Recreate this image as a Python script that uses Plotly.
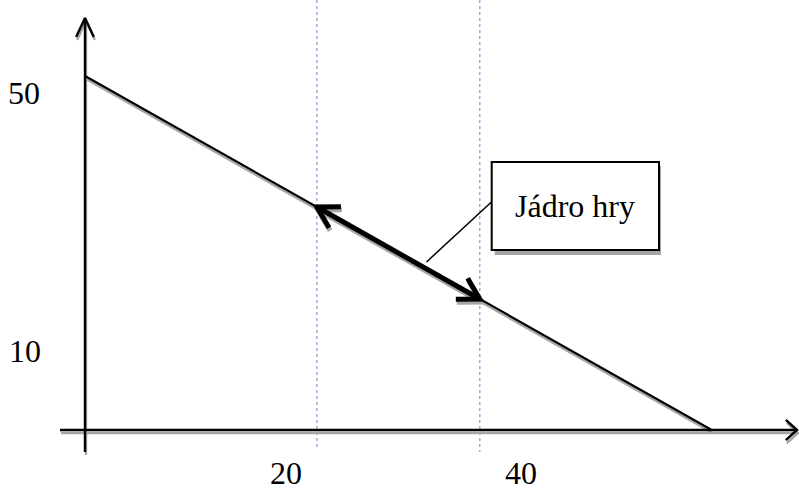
import math
import plotly.graph_objects as go

# ---------------- data ----------------
x_intercept = 60          # budget line meets the horizontal axis
y_intercept = 50          # budget line meets the vertical axis
core_bounds = [22.2, 37.8]  # x-limits of the core (dashed lines / thick arrow)
x_tick_vals = [20, 40]
x_tick_text = ["20", "40"]
y_tick_vals = [50, 10]
y_tick_text = ["50", "10"]
callout_text = "Jádro hry"

# ---------------- scale / styles ----------------
W, H = 799, 488
KX, KY = 10.445, 7.08          # px per data unit
X0PX, Y0PX = 85, 430           # pixel position of the origin
x_range = [-X0PX / KX, (W - X0PX) / KX]
y_range = [-(H - Y0PX) / KY, Y0PX / KY]

FONT = "Liberation Serif, Times New Roman, serif"
SHADOW = "#a6a6a6"
SH_X, SH_Y = 1 / KX, -3 / KY   # shadow offset (data units)


def line_y(x):
    return y_intercept * (1 - x / x_intercept)


def chevron(tx, ty, back_deg, half_deg, length_px):
    """open arrow head; back_deg = screen angle (y down) from tip along shaft"""
    xs, ys = [], []
    for s in (-1, 1):
        a = math.radians(back_deg + s * half_deg)
        xs.append(tx + length_px * math.cos(a) / KX)
        ys.append(ty - length_px * math.sin(a) / KY)
    return [xs[0], tx, xs[1]], [ys[0], ty, ys[1]]


fig = go.Figure()


def seg(xs, ys, color, width, dash=None, shadow=False):
    if shadow:
        xs = [v + SH_X for v in xs]
        ys = [v + SH_Y for v in ys]
    fig.add_trace(go.Scatter(x=xs, y=ys, mode="lines", hoverinfo="skip",
                             line=dict(color=color, width=width, dash=dash)))


# geometry derived from data
h_axis_x = [-25 / KX, (W - 2 - X0PX) / KX]
v_axis_y = [-22 / KY, (Y0PX - 18) / KY]
diag_x = [0, x_intercept]
diag_y = [y_intercept, 0]
core_y = [line_y(v) for v in core_bounds]
slope_deg = math.degrees(math.atan2(y_intercept * KY, x_intercept * KX))

top_chev = chevron(0, v_axis_y[1], 90, 25, 21)
right_chev = chevron(h_axis_x[1], 0, 180, 42, 15)
core_chev1 = chevron(core_bounds[0], core_y[0], slope_deg, 30, 24)
core_chev2 = chevron(core_bounds[1], core_y[1], slope_deg + 180, 30, 24)

# dashed core boundaries
for xb, bottom_px in zip(core_bounds, [17, 22]):
    seg([xb, xb], [y_range[1], -bottom_px / KY], "#7f9ccc", 1.2, dash="dot")

# shadows first, then black strokes
for shadow_pass in (True, False):
    col = SHADOW if shadow_pass else "black"
    seg(h_axis_x, [0, 0], col, 2.4, shadow=shadow_pass)
    seg([0, 0], v_axis_y, col, 2.4, shadow=shadow_pass)
    seg(list(top_chev[0]), list(top_chev[1]), col, 2.4, shadow=shadow_pass)
    seg(list(right_chev[0]), list(right_chev[1]), col, 2.4, shadow=shadow_pass)
    seg(diag_x, diag_y, col, 2.2, shadow=shadow_pass)
    seg(core_bounds, core_y, col, 5, shadow=shadow_pass)
    seg(list(core_chev1[0]), list(core_chev1[1]), col, 5, shadow=shadow_pass)
    seg(list(core_chev2[0]), list(core_chev2[1]), col, 5, shadow=shadow_pass)

# callout box
box_x = [(491.7 - X0PX) / KX, (659 - X0PX) / KX]
box_y = [(Y0PX - 250) / KY, (Y0PX - 162) / KY]
callout_start_x = 32.7
seg([callout_start_x, box_x[0]],
    [line_y(callout_start_x) + 7 / KY, (Y0PX - 201.7) / KY], "black", 1.5)

shapes = [
    dict(type="rect", xref="x", yref="y",
         x0=box_x[0] + 3 / KX, x1=box_x[1] + 2 / KX,
         y0=box_y[0] - 5 / KY, y1=box_y[1] - 4 / KY,
         fillcolor=SHADOW, line=dict(width=0), layer="above"),
    dict(type="rect", xref="x", yref="y",
         x0=box_x[0], x1=box_x[1], y0=box_y[0], y1=box_y[1],
         fillcolor="white", line=dict(color="black", width=2), layer="above"),
]

annotations = [
    dict(x=(box_x[0] + box_x[1]) / 2, y=(box_y[0] + box_y[1]) / 2,
         text=callout_text, showarrow=False, xanchor="center", yanchor="middle",
         font=dict(family=FONT, size=32, color="black")),
]
for v, t, xs, ys in zip(y_tick_vals, y_tick_text, [-43, -42], [-17, 8]):
    annotations.append(dict(x=0, y=v, text=t, showarrow=False, xanchor="right",
                            yanchor="middle", xshift=xs, yshift=ys,
                            font=dict(family=FONT, size=32, color="black")))
for v, t, xs in zip(x_tick_vals, x_tick_text, [-8, 18]):
    annotations.append(dict(x=v, y=0, text=t, showarrow=False, xanchor="center",
                            yanchor="middle", xshift=xs, yshift=-43,
                            font=dict(family=FONT, size=32, color="black")))

fig.update_layout(
    width=W, height=H, margin=dict(l=0, r=0, t=0, b=0),
    paper_bgcolor="white", plot_bgcolor="white", showlegend=False,
    xaxis=dict(range=x_range, visible=False, fixedrange=True),
    yaxis=dict(range=y_range, visible=False, fixedrange=True),
    shapes=shapes, annotations=annotations,
)

fig.write_html(
    "out.html",
    config={"displayModeBar": False},
    post_script="document.body.style.margin='0';document.body.style.overflow='hidden';",
)
